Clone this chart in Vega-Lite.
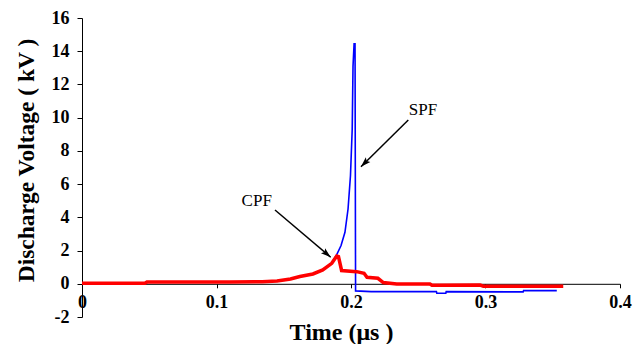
{
  "$schema": "https://vega.github.io/schema/vega-lite/v6.json",
  "width": 538,
  "height": 299,
  "autosize": {"type": "none"},
  "padding": {"left": 82, "top": 18, "right": 24, "bottom": 27},
  "background": "white",
  "config": {
    "view": {"stroke": null},
    "font": "Liberation Serif",
    "axis": {"labelFont": "Liberation Serif", "labelFontWeight": "bold", "labelFontSize": 18, "labelColor": "black",
             "titleFont": "Liberation Serif", "titleFontWeight": "bold", "titleColor": "black"}
  },
  "datasets": {
    "spf": [
      {"t": 0, "v": 0.02}, {"t": 0.047, "v": 0.02}, {"t": 0.0485, "v": 0.09}, {"t": 0.12, "v": 0.1},
      {"t": 0.1255, "v": 0.15}, {"t": 0.145, "v": 0.17}, {"t": 0.155, "v": 0.29}, {"t": 0.162, "v": 0.45},
      {"t": 0.172, "v": 0.6}, {"t": 0.179, "v": 0.85}, {"t": 0.1857, "v": 1.25}, {"t": 0.1894, "v": 1.75},
      {"t": 0.1926, "v": 2.3}, {"t": 0.1955, "v": 3.1}, {"t": 0.1978, "v": 4.5}, {"t": 0.1996, "v": 6.5},
      {"t": 0.2009, "v": 9.3}, {"t": 0.2015, "v": 13.1}, {"t": 0.2023, "v": 14.45}, {"t": 0.2030, "v": 14.45},
      {"t": 0.2034, "v": -0.43}, {"t": 0.215, "v": -0.47}, {"t": 0.2635, "v": -0.47}, {"t": 0.2638, "v": -0.57},
      {"t": 0.2705, "v": -0.57}, {"t": 0.2708, "v": -0.47}, {"t": 0.328, "v": -0.49}, {"t": 0.3283, "v": -0.41},
      {"t": 0.353, "v": -0.41}
    ],
    "cpf": [
      {"t": 0, "v": 0.03}, {"t": 0.0468, "v": 0.03}, {"t": 0.0483, "v": 0.11}, {"t": 0.11, "v": 0.11},
      {"t": 0.134, "v": 0.12}, {"t": 0.145, "v": 0.17}, {"t": 0.155, "v": 0.29}, {"t": 0.162, "v": 0.44},
      {"t": 0.1717, "v": 0.59}, {"t": 0.179, "v": 0.83}, {"t": 0.1857, "v": 1.23}, {"t": 0.1894, "v": 1.67},
      {"t": 0.1907, "v": 1.64}, {"t": 0.193, "v": 0.8}, {"t": 0.2042, "v": 0.73}, {"t": 0.2097, "v": 0.63},
      {"t": 0.2119, "v": 0.39}, {"t": 0.22, "v": 0.33}, {"t": 0.224, "v": 0.07}, {"t": 0.234, "v": -0.01},
      {"t": 0.2587, "v": -0.01}, {"t": 0.2602, "v": -0.09}, {"t": 0.296, "v": -0.08}, {"t": 0.2984, "v": -0.15},
      {"t": 0.3578, "v": -0.15}
    ],
    "labels": [
      {"name": "CPF", "t": 0.1299, "v": 4.68},
      {"name": "SPF", "t": 0.2535, "v": 10.16}
    ],
    "arrows": [
      {"name": "CPF", "t": 0.1435, "v": 4.44, "t2": 0.1849, "v2": 1.6},
      {"name": "SPF", "t": 0.2426, "v": 9.86, "t2": 0.2074, "v2": 7.05}
    ],
    "heads": [
      {"name": "CPF", "t": 0.1849, "v": 1.6},
      {"name": "SPF", "t": 0.2074, "v": 7.05}
    ]
  },
  "encoding": {
    "x": {
      "field": "t", "type": "quantitative",
      "scale": {"domain": [0, 0.4], "nice": false},
      "axis": {
        "title": "Time  (μs )", "orient": "bottom", "offset": -33.2,
        "values": [0, 0.1, 0.2, 0.3, 0.4], "format": ".1~f", "labelFlush": false,
        "grid": false, "domainColor": "black", "tickColor": "black", "tickSize": 4,
        "labelFont": "Liberation Serif", "labelFontWeight": "bold", "labelFontSize": 18, "labelColor": "black", "labelPadding": 6,
        "titleFont": "Liberation Serif", "titleFontWeight": "bold", "titleFontSize": 24, "titleColor": "black",
        "titleX": 259, "titleY": 55.5, "titleBaseline": "alphabetic", "titleAlign": "center"
      }
    },
    "y": {
      "field": "v", "type": "quantitative",
      "scale": {"domain": [-2, 16], "nice": false, "zero": false},
      "axis": {
        "title": "Discharge Voltage ( kV )",
        "values": [-2, 0, 2, 4, 6, 8, 10, 12, 14, 16], "labelExpr": "toString(datum.value)", "labelFlush": false,
        "grid": false, "domainColor": "black", "tickColor": "black", "tickSize": 5,
        "labelFont": "Liberation Serif", "labelFontWeight": "bold", "labelFontSize": 18, "labelColor": "black", "labelPadding": 8,
        "titleFont": "Liberation Serif", "titleFontWeight": "bold", "titleFontSize": 23.5, "titleColor": "black",
        "titleX": -48.5, "titleY": 142, "titleBaseline": "alphabetic", "titleAlign": "center", "titleAngle": 270
      }
    }
  },
  "layer": [
    {"data": {"name": "spf"}, "mark": {"type": "line", "color": "#0000FF", "strokeWidth": 1.6}},
    {"data": {"name": "cpf"}, "mark": {"type": "line", "color": "#FF0000", "strokeWidth": 3.5}},
    {
      "data": {"name": "arrows"},
      "mark": {"type": "rule", "color": "black", "strokeWidth": 1.5},
      "encoding": {"x2": {"field": "t2"}, "y2": {"field": "v2"}}
    },
    {
      "data": {"name": "heads"},
      "transform": [{"filter": "datum.name === 'CPF'"}],
      "mark": {"type": "point", "shape": "M0,0L-0.8,2.5L0,2L0.8,2.5Z", "size": 64, "filled": true, "color": "black", "opacity": 1, "angle": 130.3, "strokeWidth": 0}
    },
    {
      "data": {"name": "heads"},
      "transform": [{"filter": "datum.name === 'SPF'"}],
      "mark": {"type": "point", "shape": "M0,0L-0.8,2.5L0,2L0.8,2.5Z", "size": 64, "filled": true, "color": "black", "opacity": 1, "angle": 225.4, "strokeWidth": 0}
    },
    {
      "data": {"name": "labels"},
      "mark": {"type": "text", "font": "Liberation Serif", "fontSize": 17, "align": "center", "baseline": "alphabetic", "color": "black"},
      "encoding": {"text": {"field": "name", "type": "nominal"}}
    }
  ]
}
